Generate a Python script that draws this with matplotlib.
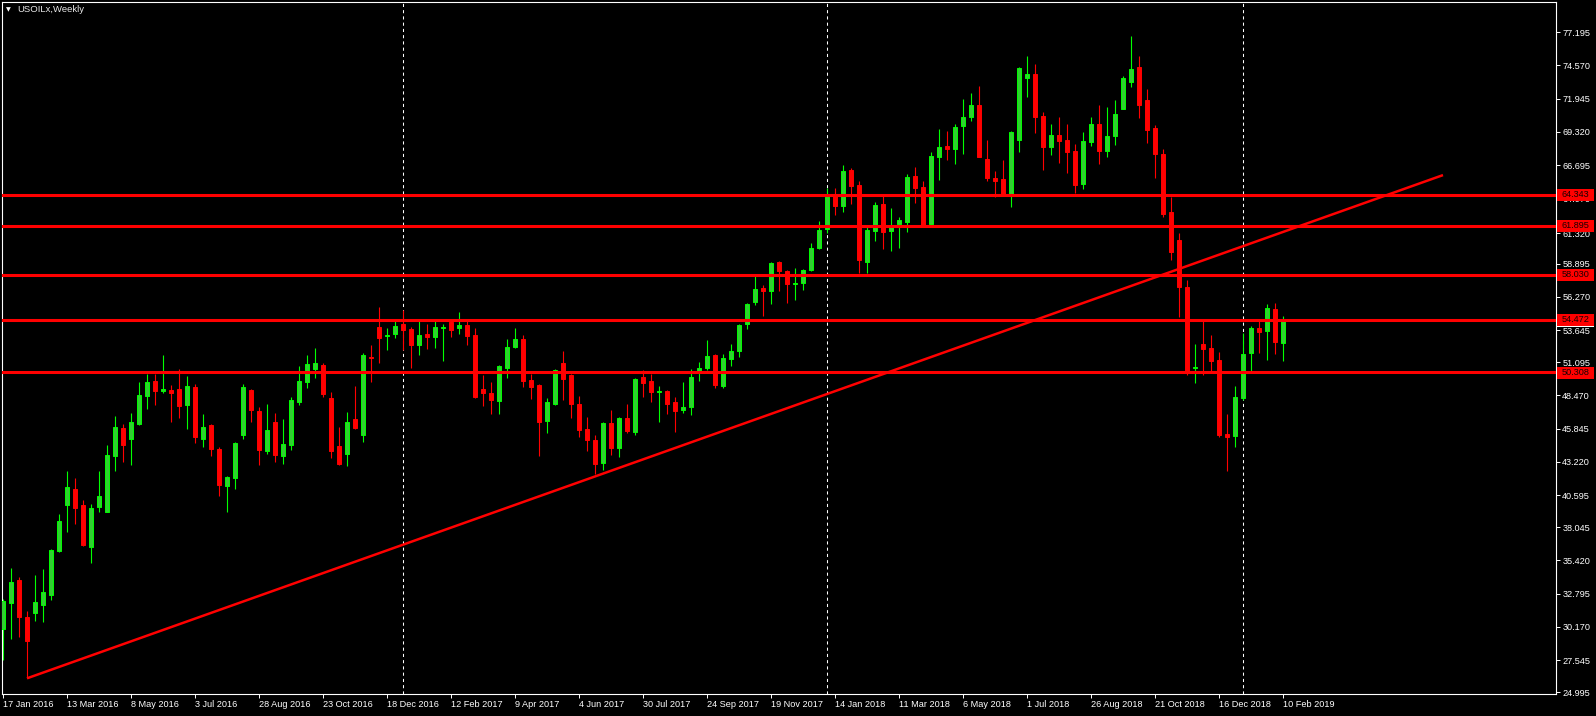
import numpy as np
import pandas as pd
import matplotlib
matplotlib.use('Agg')
import matplotlib.pyplot as plt
import matplotlib.transforms as mtransforms
from matplotlib.patches import Rectangle

symbol_title = 'USOILx,Weekly'
first_week = '2016-01-17'

# weekly OHLC
opens = [30.03, 32.09, 33.88, 30.96, 31.30, 31.93, 32.70, 36.17, 39.81, 41.08,
         39.81, 36.52, 39.68, 39.29, 43.71, 45.90, 45.06, 46.24, 48.46, 49.62,
         48.85, 48.91, 48.99, 47.75, 49.14, 45.06, 46.14, 44.24, 41.32, 41.95,
         45.35, 48.91, 47.25, 44.08, 46.38, 43.69, 44.56, 47.96, 49.54, 50.59,
         50.88, 48.27, 44.48, 43.85, 46.61, 45.35, 51.52, 53.88, 53.20, 53.31,
         54.13, 53.73, 52.47, 53.34, 53.10, 53.80, 54.31, 53.84, 54.05, 53.26,
         48.99, 48.67, 48.04, 50.65, 52.31, 52.94, 49.70, 49.30, 46.46, 47.80,
         51.04, 50.10, 47.80, 45.82, 44.95, 43.14, 46.30, 44.32, 46.69, 45.59,
         49.94, 49.62, 48.78, 48.83, 47.96, 47.33, 47.56, 50.41, 50.65, 51.68,
         49.23, 51.36, 51.99, 54.13, 55.87, 56.97, 56.74, 59.03, 58.32, 57.30,
         57.40, 58.40, 60.14, 61.67, 64.25, 63.49, 66.31, 65.12, 59.06, 61.49,
         63.62, 61.49, 62.01, 62.20, 65.83, 64.96, 62.04, 67.36, 68.21, 67.97,
         69.79, 70.50, 71.45, 67.18, 65.68, 65.60, 64.25, 68.68, 73.58, 73.90,
         70.58, 68.13, 69.08, 68.68, 67.81, 65.20, 68.52, 69.95, 67.81, 69.00,
         71.13, 73.27, 74.45, 71.84, 69.63, 67.57, 62.99, 60.77, 57.03, 50.68,
         52.55, 52.21, 51.28, 45.43, 45.30, 48.30, 51.81, 53.81, 53.60, 55.32,
         52.65]
highs = [32.40, 34.80, 34.09, 31.40, 34.28, 34.75, 36.33, 39.10, 42.50, 41.95,
         40.21, 39.89, 42.50, 44.56, 46.85, 46.22, 47.11, 49.54, 50.17, 50.20,
         51.67, 49.30, 50.57, 50.01, 49.38, 47.01, 46.22, 44.40, 42.11, 44.79,
         49.38, 48.99, 47.56, 47.80, 47.09, 46.61, 48.35, 50.80, 51.67, 52.22,
         51.04, 48.75, 45.98, 47.17, 49.22, 51.83, 52.46, 55.47, 53.80, 54.37,
         55.23, 53.86, 54.39, 54.13, 54.39, 54.13, 54.47, 55.10, 54.39, 53.81,
         50.10, 49.54, 50.85, 52.94, 53.81, 53.26, 50.17, 49.35, 48.28, 50.57,
         51.99, 50.17, 48.43, 46.77, 45.35, 46.35, 47.33, 46.77, 47.80, 49.86,
         50.49, 50.17, 49.23, 48.91, 48.35, 49.54, 50.57, 51.12, 52.86, 51.76,
         51.76, 52.55, 54.10, 55.79, 57.92, 57.21, 59.03, 59.10, 58.40, 58.56,
         58.45, 60.51, 62.28, 64.86, 64.89, 66.70, 66.47, 65.44, 61.83, 63.78,
         64.28, 63.30, 62.59, 65.99, 66.57, 65.44, 67.73, 69.55, 69.39, 69.95,
         71.92, 72.40, 72.95, 68.68, 66.23, 67.10, 69.39, 74.45, 75.32, 74.69,
         70.90, 69.95, 70.50, 69.95, 68.36, 69.31, 70.50, 71.45, 71.29, 71.84,
         73.74, 76.91, 75.32, 72.71, 69.87, 67.97, 64.17, 61.33, 57.61, 52.55,
         54.37, 53.26, 51.92, 47.01, 49.23, 53.39, 53.97, 54.37, 55.71, 55.79,
         54.76]
lows = [27.56, 29.24, 29.40, 26.10, 30.67, 30.59, 32.30, 36.10, 37.68, 38.34,
        36.60, 35.25, 39.26, 39.29, 42.53, 43.24, 42.98, 46.17, 47.40, 47.72,
        48.70, 46.40, 46.72, 45.82, 44.74, 44.40, 43.69, 40.55, 39.26, 41.08,
        45.03, 46.38, 42.98, 43.85, 43.21, 43.06, 44.16, 47.72, 49.07, 49.86,
        48.35, 43.53, 42.98, 42.90, 45.82, 44.79, 49.57, 51.06, 52.07, 53.05,
        52.07, 50.67, 51.68, 52.15, 52.26, 51.20, 53.10, 53.34, 52.47, 48.28,
        47.64, 47.01, 47.01, 49.86, 52.20, 49.15, 48.20, 43.69, 45.51, 47.72,
        48.12, 46.69, 45.19, 44.09, 42.27, 42.58, 43.77, 43.61, 45.51, 45.35,
        48.35, 47.96, 46.38, 47.01, 45.59, 47.09, 46.93, 49.62, 50.49, 49.07,
        49.07, 50.81, 51.52, 53.73, 55.63, 54.76, 55.71, 56.74, 55.79, 56.03,
        56.82, 58.35, 60.06, 61.35, 62.75, 62.99, 63.65, 58.19, 58.19, 60.69,
        60.06, 59.90, 60.14, 61.41, 63.70, 61.80, 61.90, 65.54, 67.10, 66.78,
        67.57, 70.18, 67.30, 65.44, 64.17, 64.30, 63.38, 67.73, 72.08, 69.23,
        66.31, 67.50, 66.86, 66.07, 64.49, 64.81, 68.21, 66.78, 67.34, 68.29,
        71.10, 72.87, 70.42, 68.44, 65.68, 62.59, 59.19, 54.71, 50.10, 49.44,
        50.10, 50.36, 45.17, 42.53, 44.38, 48.12, 50.44, 51.86, 51.28, 51.76,
        51.23]
closes = [32.25, 33.72, 30.98, 29.08, 32.12, 32.91, 36.25, 38.52, 41.24, 39.60,
          36.65, 39.58, 40.52, 43.77, 45.98, 44.56, 46.38, 48.51, 49.54, 48.85,
          48.99, 48.70, 47.67, 49.22, 45.19, 45.98, 44.24, 41.39, 42.03, 44.72,
          49.14, 47.33, 44.16, 45.74, 43.77, 44.64, 48.12, 49.62, 50.96, 51.04,
          48.59, 44.08, 43.06, 46.38, 45.90, 51.67, 51.46, 53.04, 53.26, 53.94,
          53.65, 52.47, 53.26, 53.10, 53.89, 53.86, 53.65, 54.05, 53.18, 48.35,
          48.67, 48.12, 50.81, 52.31, 52.94, 49.62, 49.15, 46.38, 47.96, 50.49,
          49.78, 47.80, 45.75, 44.95, 43.06, 46.30, 44.32, 46.69, 45.67, 49.78,
          49.46, 48.75, 48.82, 47.80, 47.25, 47.56, 49.94, 50.65, 51.60, 49.30,
          51.44, 51.99, 54.05, 55.71, 56.90, 56.74, 58.95, 58.32, 57.29, 57.34,
          58.40, 60.11, 61.56, 64.28, 63.46, 66.23, 65.07, 59.19, 61.56, 63.54,
          61.43, 61.83, 62.35, 65.75, 64.89, 61.85, 67.42, 68.13, 67.97, 69.71,
          70.50, 71.45, 67.34, 65.68, 65.44, 64.41, 69.31, 74.38, 73.90, 70.50,
          68.13, 69.08, 68.60, 67.73, 65.12, 68.60, 69.95, 67.81, 69.00, 70.74,
          73.58, 74.30, 71.45, 69.47, 67.57, 62.83, 59.82, 57.08, 50.23, 50.72,
          52.13, 51.23, 45.35, 45.17, 48.36, 51.76, 53.81, 53.52, 55.40, 52.71,
          54.37]

level_prices = [64.343, 61.895, 58.030, 54.472, 50.308]
trend_bars = [3, 180]
trend_prices = [26.10, 65.90]
separator_bars = [50, 103, 155]
price_ticks = [77.195, 74.570, 71.945, 69.320, 66.695, 64.070, 61.320, 58.895,
               56.270, 53.645, 51.095, 48.470, 45.845, 43.220, 40.595, 38.045,
               35.420, 32.795, 30.170, 27.545, 24.995]
date_step = 8

W, H = 1596, 716


def draw_candles(ax, o, h, l, c):
    x = np.arange(len(o))
    up = c >= o
    dn = ~up
    ax.vlines(x[up], l[up], h[up], color='#00ff00', lw=0.8, zorder=2)
    ax.vlines(x[dn], l[dn], h[dn], color='#ff0000', lw=0.8, zorder=2)
    ax.bar(x[up], (c - o)[up], bottom=o[up], width=0.55, color='#32cd32',
           edgecolor='#00ff00', linewidth=0.7, zorder=3)
    ax.bar(x[dn], (c - o)[dn], bottom=o[dn], width=0.55, color='#ff0000',
           edgecolor='#ff0000', linewidth=0.7, zorder=3)


if __name__ == "__main__":
    plt.rcParams['font.family'] = ['Liberation Sans', 'DejaVu Sans']

    o = np.array(opens)
    h = np.array(highs)
    l = np.array(lows)
    c = np.array(closes)
    n = len(o)

    fig = plt.figure(figsize=(W / 100, H / 100), dpi=100, facecolor='black')
    ax = fig.add_axes([2 / W, 22 / H, 1554 / W, 692 / H])
    ax.set_facecolor('black')

    for b in separator_bars:
        ax.axvline(b, color='white', lw=0.75, ls=(0, (3, 3)), zorder=1)

    draw_candles(ax, o, h, l, c)

    for p in level_prices:
        ax.axhline(p, color='#ff0000', lw=2.2, zorder=4)
    ax.plot(trend_bars, trend_prices, color='#ff0000', lw=1.8,
            solid_capstyle='butt', zorder=4)

    ax.set_xlim(-0.125, 194.125)
    ax.set_ylim(24.86, 79.59)

    for s in ax.spines.values():
        s.set_color('white')
        s.set_linewidth(0.8)

    ax.yaxis.tick_right()
    ax.set_yticks(price_ticks, ['%.3f' % t for t in price_ticks])
    ax.tick_params(axis='y', colors='white', length=3, width=0.7, pad=1.5,
                   labelsize=6.6)

    dates = pd.date_range(first_week, periods=n, freq='7D')
    xt = list(range(0, n, date_step))
    ax.set_xticks(xt, ['%d %s' % (dates[i].day, dates[i].strftime('%b %Y')) for i in xt])
    ax.tick_params(axis='x', colors='white', length=3, width=0.7, pad=1.5,
                   labelsize=6.6)
    for lab in ax.get_xticklabels():
        lab.set_horizontalalignment('left')

    # price labels on the right scale
    trans = mtransforms.blended_transform_factory(ax.transAxes, ax.transData)
    bx = (1557 - 2) / 1554
    bw = 37 / 1554
    bh = 12 / 12.644
    ax.add_patch(Rectangle((bx, c[-1] - bh / 2), bw, bh, transform=trans,
                           facecolor='white', edgecolor='none', clip_on=False, zorder=5))
    for p in level_prices:
        ax.add_patch(Rectangle((bx, p - bh / 2 - 0.05), bw, bh, transform=trans,
                               facecolor='#ff0000', edgecolor='none', clip_on=False, zorder=6))
        ax.text((1562 - 2) / 1554, p, '%.3f' % p, transform=trans, color='#1a0000',
                fontsize=6.6, va='center', ha='left', clip_on=False, zorder=7)

    fig.text(8 / W, 1 - 10 / H, '\u25bc', color='white', fontsize=4.5,
             va='center', ha='center', family='DejaVu Sans')
    fig.text(17 / W, 1 - 10 / H, symbol_title, color='#e8e8e8', fontsize=6.8,
             va='center', ha='left')

    fig.savefig('out.png', dpi=100, facecolor='black')
